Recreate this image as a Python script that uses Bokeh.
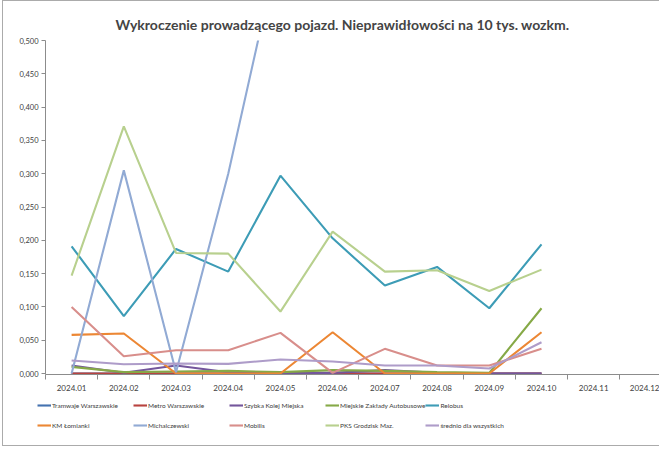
import math
from bokeh.plotting import figure
from bokeh.layouts import column
from bokeh.models import FixedTicker, Legend, LegendItem, Range1d
from bokeh.embed import file_html
from bokeh.resources import INLINE

months = ["2024.01", "2024.02", "2024.03", "2024.04", "2024.05", "2024.06",
          "2024.07", "2024.08", "2024.09", "2024.10", "2024.11", "2024.12"]
y_ticks = [0.0, 0.05, 0.1, 0.15, 0.2, 0.25, 0.3, 0.35, 0.4, 0.45, 0.5]
y_tick_labels = ["0,000", "0,050", "0,100", "0,150", "0,200", "0,250",
                 "0,300", "0,350", "0,400", "0,450", "0,500"]

nan = float("nan")
tramwaje = [0.000, 0.000, 0.000, 0.000, 0.000, 0.000, 0.000, 0.000, 0.000, 0.000]
metro = [0.000, 0.000, 0.000, 0.000, 0.000, 0.000, 0.000, 0.000, 0.000, 0.000]
skm = [0.012, 0.001, 0.012, 0.002, 0.001, 0.001, 0.005, 0.001, 0.000, 0.000]
mza = [0.010, 0.002, 0.003, 0.004, 0.002, 0.005, 0.004, 0.002, 0.001, 0.098]
relobus = [0.191, 0.086, 0.187, 0.153, 0.297, 0.203, 0.132, 0.160, 0.098, 0.194]
lomianki = [0.058, 0.060, 0.000, 0.000, 0.000, 0.062, 0.000, 0.000, 0.000, 0.062]
michalczewski = [0.000, 0.305, 0.002, 0.300, 0.650, nan, nan, nan, nan, nan]
mobilis = [0.100, 0.026, 0.035, 0.035, 0.061, 0.001, 0.037, 0.012, 0.012, 0.037]
pks = [0.147, 0.371, 0.181, 0.180, 0.093, 0.213, 0.153, 0.155, 0.124, 0.156]
srednio = [0.0195, 0.014, 0.015, 0.0145, 0.021, 0.018, 0.012, 0.012, 0.0075, 0.047]

series = [
    ("Tramwaje Warszawskie", tramwaje, "#4472B0"),
    ("Metro Warszawskie", metro, "#B8433F"),
    ("Szybka Kolej Miejska", skm, "#74569C"),
    ("Miejskie Zakłady Autobusowe", mza, "#86A947"),
    ("Relobus", relobus, "#3D9CB6"),
    ("KM Łomianki", lomianki, "#EC8734"),
    ("Michalczewski", michalczewski, "#91AAD4"),
    ("Mobilis", mobilis, "#D88E8B"),
    ("PKS Grodzisk Maz.", pks, "#B8D08E"),
    ("średnio dla wszystkich", srednio, "#AE9CC9"),
]

FONT = "Lato"
p = figure(width=656, height=394, output_backend="svg", toolbar_location=None,
           x_range=Range1d(-0.5, 11.26), y_range=Range1d(-0.0015, 0.5),
           min_border_left=42, min_border_right=0, min_border_top=39,
           min_border_bottom=21)

p.title.text = "Wykroczenie prowadzącego pojazd. Nieprawidłowości na 10 tys. wozkm."
p.title.align = "left"
p.title.offset = 70
p.title.standoff = 16
p.title.text_font = FONT
p.title.text_font_style = "bold"
p.title.text_font_size = "14px"

p.xgrid.visible = False
p.ygrid.visible = False
p.outline_line_color = None

xs = list(range(10))
for name, vals, col in series:
    p.line(xs, vals, line_color=col, line_width=2.1)

# X axis
p.xaxis.ticker = FixedTicker(ticks=list(range(12)),
                             minor_ticks=[i - 0.5 for i in range(13)])
p.xaxis.major_label_overrides = {i: m for i, m in enumerate(months)}
p.xaxis.major_tick_line_color = None
p.xaxis.minor_tick_in = 0
p.xaxis.minor_tick_out = 5
p.xaxis.minor_tick_line_color = "#8C8C8C"
p.xaxis.axis_line_color = "#8C8C8C"
p.xaxis.major_label_text_font = FONT
p.xaxis.major_label_text_font_size = "8px"
p.xaxis.major_label_text_color = "#404040"
p.xaxis.major_label_standoff = 4

# Y axis
p.yaxis.ticker = FixedTicker(ticks=y_ticks, minor_ticks=[])
p.yaxis.major_label_overrides = {t: l for t, l in zip(y_ticks, y_tick_labels)}
p.yaxis.major_tick_in = 0
p.yaxis.major_tick_out = 4
p.yaxis.major_tick_line_color = "#8C8C8C"
p.yaxis.axis_line_color = "#8C8C8C"
p.yaxis.major_label_text_font = FONT
p.yaxis.major_label_text_font_size = "7.5px"
p.yaxis.major_label_text_color = "#404040"
p.yaxis.major_label_standoff = 3

# Legend in its own strip below the chart
p2 = figure(width=656, height=50, output_backend="svg", toolbar_location=None,
            x_range=Range1d(0, 656), y_range=Range1d(0, 50),
            min_border_left=0, min_border_right=0, min_border_top=0,
            min_border_bottom=0, x_axis_location=None, y_axis_location=None)
p2.frame_align = False
p2.xgrid.visible = False
p2.ygrid.visible = False
p2.outline_line_color = None
items = []
for name, vals, col in series:
    r = p2.line([nan], [nan], line_color=col, line_width=2.1)
    items.append(LegendItem(label=name, renderers=[r]))
legend = Legend(items=items, ncols=5, orientation="horizontal",
                location=(34, 10), padding=0, margin=0, spacing=0,
                glyph_width=14, glyph_height=20, label_standoff=1,
                label_width=81, label_height=20,
                label_text_font=FONT, label_text_font_size="6.5px",
                label_text_color="#404040",
                border_line_color=None, background_fill_alpha=0)
p2.add_layout(legend, "center")

layout = column(p, p2, spacing=0)
layout.styles = {"border-left": "1px solid #ABABAB", "border-top": "1px solid #ABABAB",
                 "border-bottom": "1px solid #ABABAB", "margin-left": "2px"}

open("out.html", "w").write(file_html(layout, INLINE))
